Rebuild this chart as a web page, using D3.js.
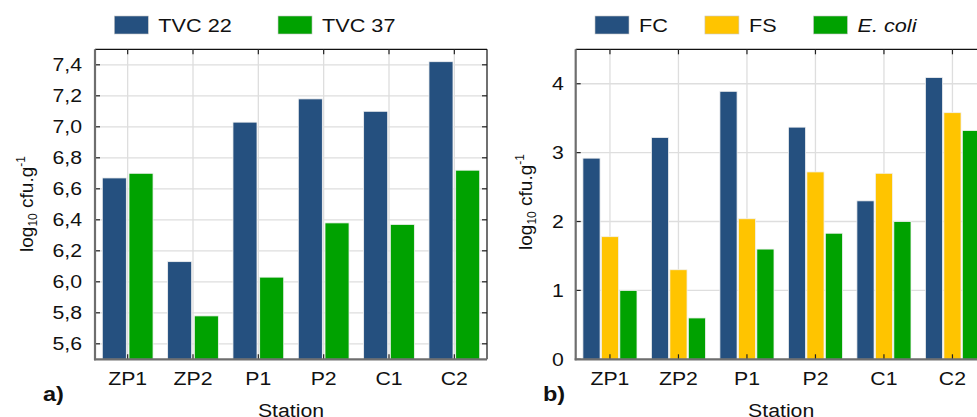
<!DOCTYPE html>
<html>
<head>
<meta charset="utf-8">
<script src="https://cdn.jsdelivr.net/npm/d3@7"></script>
<style>
  body { margin: 0; background: #fff; }
  svg { display: block; font-family: "Liberation Sans", Arial, sans-serif; }
</style>
</head>
<body>
<div id="app"></div>
<script>
// Data
const stations = ["ZP1", "ZP2", "P1", "P2", "C1", "C2"];

const seriesA = ["TVC 22", "TVC 37"];
const tvc22 = [6.67, 6.13, 7.03, 7.18, 7.10, 7.42];
const tvc37 = [6.70, 5.78, 6.03, 6.38, 6.37, 6.72];
const yTicksA = [5.6, 5.8, 6.0, 6.2, 6.4, 6.6, 6.8, 7.0, 7.2, 7.4];

const seriesB = ["FC", "FS", "E. coli"];
const fc = [2.92, 3.22, 3.89, 3.37, 2.30, 4.09];
const fs = [1.78, 1.30, 2.04, 2.72, 2.70, 3.58];
const ecoli = [1.00, 0.60, 1.60, 1.83, 2.00, 3.32];
const yTicksB = [0, 1, 2, 3, 4];

const width = 977;
const height = 417;
const stretch = 1.18; // the original figure is a bit wider than tall

const svg = d3.select("#app").append("svg")
  .attr("width", width)
  .attr("height", height);

// widen text horizontally like in the source picture
function widen(sel, k) {
  sel.each(function () {
    const w = this.getComputedTextLength();
    d3.select(this).attr("textLength", w * (k || stretch)).attr("lengthAdjust", "spacingAndGlyphs");
  });
}

function panel(opt) {
  const g = svg.append("g");
  const x = d3.scaleBand().domain(stations).range([opt.left, opt.right]);
  const x1 = d3.scaleBand().domain(opt.series)
    .range([opt.inset, x.bandwidth() - opt.inset])
    .paddingInner(opt.gap);
  const y = d3.scaleLinear().domain(opt.domain).range([opt.bottom, opt.top]);

  // grid
  g.append("g").selectAll("line").data(opt.ticks).join("line")
    .attr("x1", opt.left).attr("x2", opt.right)
    .attr("y1", d => y(d)).attr("y2", d => y(d))
    .attr("stroke", "#dedede").attr("stroke-width", 1.3);
  g.append("g").selectAll("line").data(stations).join("line")
    .attr("x1", d => x(d) + x.bandwidth() / 2).attr("x2", d => x(d) + x.bandwidth() / 2)
    .attr("y1", opt.top).attr("y2", opt.bottom)
    .attr("stroke", "#dedede").attr("stroke-width", 1.3);

  // bars
  const rows = stations.map((s, i) => ({ s, vals: opt.values.map((v, j) => ({ k: opt.series[j], v: v[i] })) }));
  g.append("g").selectAll("g").data(rows).join("g")
    .attr("transform", d => `translate(${x(d.s)},0)`)
    .selectAll("rect").data(d => d.vals).join("rect")
    .attr("x", d => x1(d.k))
    .attr("width", x1.bandwidth())
    .attr("y", d => y(d.v))
    .attr("height", d => opt.bottom - y(d.v))
    .attr("fill", d => opt.colors[opt.series.indexOf(d.k)])
    .attr("stroke", "#f2f2f2").attr("stroke-width", 0.8);

  // frame: top and right thin black, left and bottom grey
  g.append("line").attr("x1", opt.left).attr("x2", opt.right).attr("y1", opt.top).attr("y2", opt.top)
    .attr("stroke", "#111").attr("stroke-width", 1.2);
  g.append("line").attr("x1", opt.right).attr("x2", opt.right).attr("y1", opt.top).attr("y2", opt.bottom)
    .attr("stroke", "#111").attr("stroke-width", 1.2);

  // inward ticks on all sides
  const tickStyle = s => s.attr("stroke", "#222").attr("stroke-width", 1.2);
  g.append("g").selectAll("line").data(opt.ticks).join("line")
    .attr("x1", opt.left).attr("x2", opt.left + 5)
    .attr("y1", d => y(d)).attr("y2", d => y(d)).call(tickStyle);
  g.append("g").selectAll("line").data(opt.ticks).join("line")
    .attr("x1", opt.right).attr("x2", opt.right - 5)
    .attr("y1", d => y(d)).attr("y2", d => y(d)).call(tickStyle);
  g.append("g").selectAll("line").data(stations).join("line")
    .attr("x1", d => x(d) + x.bandwidth() / 2).attr("x2", d => x(d) + x.bandwidth() / 2)
    .attr("y1", opt.top).attr("y2", opt.top + 5).call(tickStyle);
  g.append("g").selectAll("line").data(stations).join("line")
    .attr("x1", d => x(d) + x.bandwidth() / 2).attr("x2", d => x(d) + x.bandwidth() / 2)
    .attr("y1", opt.bottom).attr("y2", opt.bottom - 5).call(tickStyle);

  g.append("line").attr("x1", opt.left).attr("x2", opt.left).attr("y1", opt.top).attr("y2", opt.bottom + 1)
    .attr("stroke", "#6e6e6e").attr("stroke-width", 2.2);
  g.append("line").attr("x1", opt.left - 1).attr("x2", opt.right).attr("y1", opt.bottom).attr("y2", opt.bottom)
    .attr("stroke", "#6e6e6e").attr("stroke-width", 2.2);

  // y axis labels
  const yAxis = d3.axisLeft(y).tickValues(opt.ticks).tickSize(0).tickPadding(opt.labelPad)
    .tickFormat(opt.fmt);
  const ya = g.append("g").attr("transform", `translate(${opt.left},0)`).call(yAxis);
  ya.select(".domain").remove();
  ya.selectAll("text").attr("font-size", 18).attr("fill", "#111")
    .attr("font-family", "Liberation Sans, Arial, sans-serif").call(widen);

  // x axis labels
  const xAxis = d3.axisBottom(x).tickSize(0).tickPadding(13);
  const xa = g.append("g").attr("transform", `translate(0,${opt.bottom})`).call(xAxis);
  xa.select(".domain").remove();
  xa.selectAll("text").attr("font-size", 18).attr("fill", "#111")
    .attr("font-family", "Liberation Sans, Arial, sans-serif").call(widen);

  // axis titles
  g.append("text")
    .attr("x", opt.left + (x.bandwidth() * 3))
    .attr("y", 416.5)
    .attr("text-anchor", "middle")
    .attr("font-size", 18).attr("fill", "#111")
    .text("Station").call(widen);

  const yl = g.append("text")
    .attr("transform", `translate(${opt.ylabX},${opt.ylabY}) rotate(-90)`)
    .attr("text-anchor", "middle")
    .attr("font-size", 19).attr("fill", "#111");
  yl.append("tspan").text("log");
  yl.append("tspan").attr("font-size", 12).attr("dy", 4).text("10");
  yl.append("tspan").attr("dy", -4).text(" cfu.g");
  yl.append("tspan").attr("font-size", 12).attr("dy", -8).text("-1");

  g.append("text")
    .attr("x", opt.tagX).attr("y", 401)
    .attr("font-size", 21).attr("font-weight", "bold").attr("fill", "#111")
    .text(opt.tag).call(widen, 1.12);

  // legend
  let lx = opt.left + 19.3;
  opt.series.forEach((s, i) => {
    g.append("rect")
      .attr("x", lx).attr("y", 16).attr("width", 34).attr("height", 18)
      .attr("fill", opt.colors[i]).attr("stroke", "#c8c8c8").attr("stroke-width", 0.6);
    const t = g.append("text")
      .attr("x", lx + 44).attr("y", 32.3)
      .attr("font-size", 19).attr("fill", "#111")
      .attr("font-style", s === "E. coli" ? "italic" : null)
      .text(s).call(widen, 1.14);
    lx += 44 + t.node().getComputedTextLength() * 1.14 + opt.legendGap;
  });
}

const commaFmt = d => d3.format(".1f")(d).replace(".", ",");

panel({
  left: 95, right: 487, top: 49.3, bottom: 359.3,
  domain: [5.5, 7.5], ticks: yTicksA, fmt: commaFmt,
  series: seriesA, values: [tvc22, tvc37],
  colors: ["#25507f", "#00a200"],
  inset: 7.3, gap: 0.1, labelPad: 13,
  ylabX: 33, ylabY: 204, tag: "a)", tagX: 43,
  legendGap: 36
});

panel({
  left: 575.7, right: 575.7 + 6 * 68.5, top: 49.3, bottom: 359.3,
  domain: [0, 4.5], ticks: yTicksB, fmt: d3.format("d"),
  series: seriesB, values: [fc, fs, ecoli],
  colors: ["#25507f", "#ffc400", "#00a200"],
  inset: 7.2, gap: 0.07, labelPad: 12,
  ylabX: 532, ylabY: 202, tag: "b)", tagX: 543,
  legendGap: 33
});
</script>
</body>
</html>
